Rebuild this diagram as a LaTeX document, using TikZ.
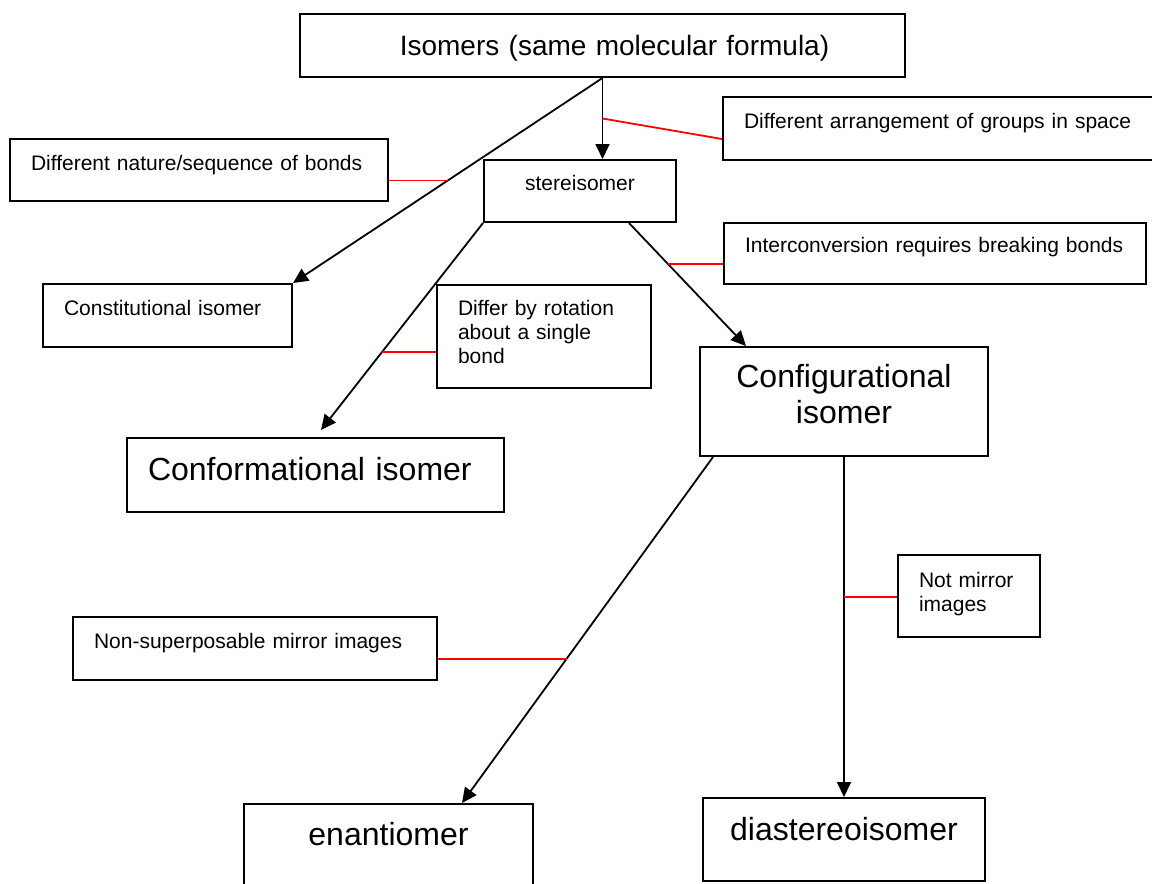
\documentclass[tikz,border=0pt]{standalone}
\usepackage{fontspec}
\setmainfont{Liberation Sans}
\usetikzlibrary{arrows.meta,positioning}

\begin{document}
\begin{tikzpicture}[x=1pt, y=-1pt,
    lbox/.style={draw, line width=2pt, inner xsep=21pt, inner ysep=0pt, align=left, font=\fontsize{21}{24}\selectfont},
    cbox/.style={draw, line width=2pt, inner sep=0pt, align=center},
    big/.style={font=\fontsize{32}{36}\selectfont},
    link/.style={line width=1.8pt, -{Triangle[length=15pt,width=14pt]}},
    note/.style={red, line width=1.8pt}]
    \useasboundingbox (0,0) rectangle (1152,884);

    \node[cbox, text width=605pt, text height=41pt, text depth=22pt, font=\fontsize{28}{32}\selectfont] (isomers) at (602.5,45.5) {\hspace*{24pt}Isomers (same molecular formula)};
    \node[lbox, text width=336pt, text height=31pt, text depth=31pt] (nature) at (199,170) {Different nature/sequence of bonds};
    \node[lbox, text width=400pt, text height=31pt, text depth=32pt] (arrange) at (944,128.5) {Different arrangement of groups in space};
    \node[cbox, text width=192pt, text height=30pt, text depth=32pt, font=\fontsize{21}{24}\selectfont] (stereo) at (580,191) {stereisomer};
    \node[lbox, text width=380pt, text height=29pt, text depth=32pt] (interconv) at (935,253.5) {Interconversion requires breaking bonds};
    \node[lbox, text width=207pt, text height=31pt, text depth=32pt] (constit) at (167.5,315.5) {Constitutional isomer};
    \node[lbox, text width=172pt, text height=30pt, text depth=73pt] (rotation) at (544,336.5) {Differ by rotation\\about a single\\bond};
    \node[lbox, big, text width=335pt, text height=42pt, text depth=32pt] (conform) at (315.5,475) {Conformational isomer};
    \node[cbox, big, text width=288pt, text height=40pt, text depth=69pt] (config) at (844,401.5) {Configurational\\isomer};
    \node[lbox, text width=100pt, text height=32pt, text depth=50pt] (notmirror) at (969,596) {\mbox{Not mirror}\\images};
    \node[lbox, text width=322pt, text height=31pt, text depth=32pt] (nonsuper) at (255,648.5) {Non-superposable mirror images};
    \node[cbox, big, text width=289pt, text height=41pt, text depth=50pt] (enantio) at (388.5,849.5) {enantiomer};
    \node[cbox, big, text width=282pt, text height=42pt, text depth=41pt] (diastereo) at (844,839.5) {diastereoisomer};

    \draw[link] (isomers.south) -- coordinate[pos=0.5] (pnature) (constit.north east);
    \draw[link] (isomers.south) -- coordinate[pos=0.5] (parrange) (isomers.south |- stereo.north);
    \draw[link, shorten >=9pt] (stereo.south west) -- coordinate[pos=0.604] (protation) (conform.north);
    \draw[link] ([xshift=-48pt]stereo.south east) -- coordinate[pos=0.336] (pinterconv) ([xshift=47pt]config.north west);
    \draw[link] ([xshift=14pt]config.south west) -- coordinate[pos=0.583] (pnonsuper) ([xshift=73.5pt]enantio.north);
    \draw[link] (config.south -| diastereo.north) -- coordinate[pos=0.412] (pnotmirror) (diastereo.north);

    \draw[note] (pnature -| nature.east) -- (pnature);
    \draw[note] (parrange) -- ([yshift=-10.5pt]arrange.west);
    \draw[note] (protation) -- (protation -| rotation.west);
    \draw[note] (pinterconv) -- (pinterconv -| interconv.west);
    \draw[note] (pnotmirror) -- (pnotmirror -| notmirror.west);
    \draw[note] (pnonsuper -| nonsuper.east) -- (pnonsuper);
\end{tikzpicture}
\end{document}
